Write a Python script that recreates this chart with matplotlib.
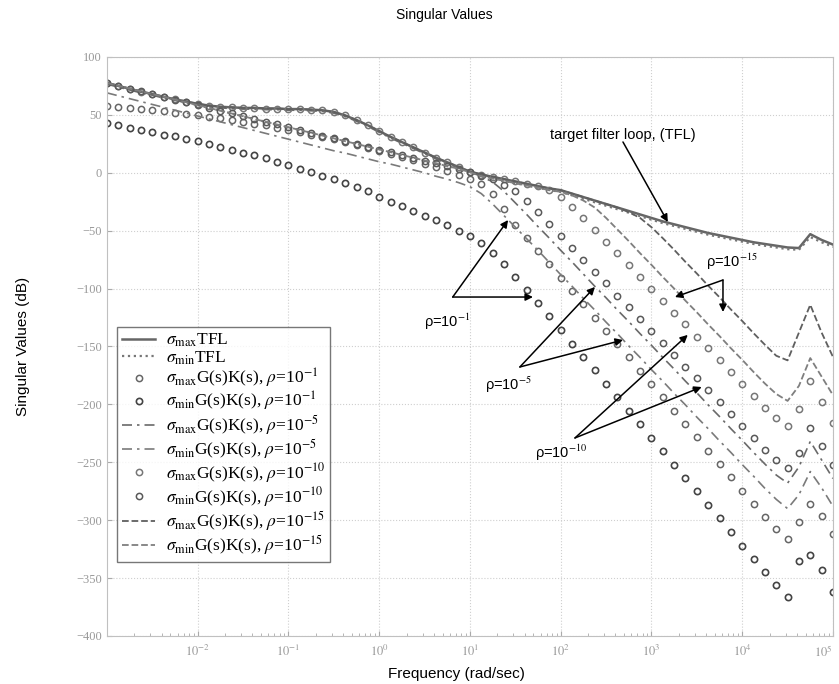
import numpy as np
import matplotlib.pyplot as plt

plt.rcParams['mathtext.fontset'] = 'stix'

# frequency grid (rad/sec), 8 points per decade like a bode sweep
freq = np.logspace(-3, 5, 65)

# singular values in dB
tfl_max_db = [77.5, 75, 72.5, 70, 68, 65.5, 63.5, 61.5, 59.5,
              58, 57, 56.5, 56, 56, 55.5, 55.5, 55, 55, 54.5, 54,
              52.5, 49.5, 45.5, 41, 36, 31, 26.5, 22, 17.5, 13, 9, 5,
              1,
              -1.5, -3.5, -5.5, -7.5, -9.5, -11.5, -13.5, -15,
              -18, -21, -24, -27, -30, -33, -36, -39,
              -42, -44.5, -47, -49.5, -52, -54, -56, -58,
              -60, -61.5, -63, -64.5, -65, -53, -58, -62]
tfl_min_db = [77.5, 75.1, 72.7, 70.3, 67.9, 65.6, 63.2, 60.8, 58.4,
              56, 53.6, 51.2, 48.8, 46.4, 44, 41.7, 39.3,
              36.9, 34.5, 32.1, 29.7, 27.3, 24.9, 22.5, 20.1,
              17.8, 15.4, 13, 10.6, 8.2, 5.8, 3.4, 0.5,
              -3, -5, -7, -9, -11, -13, -15, -16.5,
              -19.5, -22.5, -25.5, -28.5, -31.5, -34.5, -37.5, -40.5,
              -43.5, -46, -48.5, -51, -53.5, -55.5, -57.5, -59.5,
              -61.5, -63, -64.5, -66, -66.5, -55.5, -60, -64]

# rho = 1e-1
gk1_max_db = [58, 57, 56, 55, 54, 53, 52, 51, 50,
              48.5, 47, 45.5, 44, 42.5, 41, 39, 37,
              35, 33, 31, 29, 26.5, 24, 21.5, 19,
              16.5, 14, 11, 8, 5, 1.5, -2, -5.5,
              -10, -18, -31, -45, -56, -67.5, -79, -90.5,
              -102, -113.5, -125, -136.5, -148, -159.5, -171, -182.5,
              -194, -205.5, -217, -228.5, -240, -251.5, -263, -274.5,
              -286, -297.5, -308, -316, -302, -286, -296, -312]
gk1_min_db = [43, 41, 39, 37, 35, 33, 31.5, 29.5, 27.5,
              25, 22.5, 20, 17.5, 15, 12.5, 9.5, 6.5,
              3.5, 0.5, -2.5, -5.5, -9, -12.5, -16, -20.5,
              -25, -29, -33, -37, -41, -45.5, -50, -55,
              -61, -69, -79, -90, -101, -112.5, -124, -136,
              -147.5, -159, -170.5, -182, -194, -205.5, -217, -229,
              -240.5, -252, -263.5, -275, -287, -298.5, -310, -322,
              -333.5, -345, -356, -366, -335, -330, -343, -362]

# rho = 1e-5
gk5_max_db = [76.5, 74, 71.5, 69, 67, 64.5, 62.5, 60.5, 58.5,
              57, 56, 55.5, 55, 55, 54.5, 54.5, 54,
              54, 53.5, 53, 51.5, 48.5, 44.5, 40, 35,
              30, 25.5, 21, 16.5, 12, 8, 4, 0.5,
              -3, -8, -16, -26, -36, -46.5, -56.5, -67,
              -77, -87.5, -98, -108, -118.5, -128.5, -139, -149,
              -159.5, -169.5, -180, -190, -200.5, -210.5, -221, -231,
              -241.5, -251.5, -261, -268, -254, -232, -248, -264]
gk5_min_db = [69, 66.5, 64, 61.5, 59, 56.5, 54, 51.5, 49,
              46.5, 44, 41.5, 39, 36.5, 34, 31.5, 29,
              26.5, 24, 21.5, 19, 17, 14.5, 12, 9.5,
              7.5, 5, 2.5, 0, -3, -5.5, -8.5, -12,
              -18, -27, -37, -47, -57, -67, -77.5, -88,
              -98, -108.5, -118.5, -129, -139, -149.5, -159.5, -170,
              -180, -190.5, -200.5, -211, -221, -231.5, -241.5, -252,
              -262, -272.5, -282, -290, -278, -258, -272, -288]

# rho = 1e-10 and 1e-15 sit on the TFL at low frequency
gk10_max_db = tfl_max_db[:39] + [-15, -21, -29.5, -39, -49, -59.5, -69.5, -80, -90,
                                 -100.5, -110.5, -121, -131, -141.5, -151.5, -162,
                                 -172, -182.5, -192.5, -203, -212, -219, -204, -180,
                                 -198, -216]
gk10_min_db = tfl_min_db[:35] + [-10.5, -16, -24.5, -34, -44, -54.5, -65, -75, -85.5,
                                 -95.5, -106, -116, -126.5, -136.5, -147, -157,
                                 -167.5, -177.5, -188, -198, -208.5, -218.5, -229,
                                 -239, -248, -255, -242, -220, -236, -252]
gk15_max_db = tfl_max_db[:46] + [-34, -39, -47, -56.5, -66.5, -77, -87, -97.5, -107.5,
                                 -118, -128, -138.5, -148.5, -158, -162, -138, -114,
                                 -138, -159]
gk15_min_db = tfl_min_db[:42] + [-24, -30, -39, -49, -59, -69.5, -79.5, -90, -100,
                                 -110.5, -120.5, -131, -141, -151.5, -161.5, -172,
                                 -182, -191, -197, -184, -160, -176, -192]

fig = plt.figure(figsize=(8.39, 6.84), dpi=100)
ax = fig.add_axes([0.1275, 0.0702, 0.8653, 0.8465])

dashdot = (0, (6, 3, 1.5, 3))
ax.semilogx(freq, tfl_max_db, '-', color='#666666', lw=1.8,
            label=r'$\sigma_{\rm max}$TFL')
ax.semilogx(freq, tfl_min_db, ':', color='#777777', lw=1.6,
            label=r'$\sigma_{\rm min}$TFL')
ax.semilogx(freq, gk1_max_db, 'o', ls='none', ms=4.5, mfc='none', mec='#666666', mew=1.1,
            label=r'$\sigma_{\rm max}$G(s)K(s), $\rho$=10$^{-1}$')
ax.semilogx(freq, gk1_min_db, 'o', ls='none', ms=4.5, mfc='none', mec='#444444', mew=1.2,
            label=r'$\sigma_{\rm min}$G(s)K(s), $\rho$=10$^{-1}$')
ax.semilogx(freq, gk5_max_db, ls=dashdot, color='#6a6a6a', lw=1.2,
            label=r'$\sigma_{\rm max}$G(s)K(s), $\rho$=10$^{-5}$')
ax.semilogx(freq, gk5_min_db, ls=dashdot, color='#7a7a7a', lw=1.2,
            label=r'$\sigma_{\rm min}$G(s)K(s), $\rho$=10$^{-5}$')
ax.semilogx(freq, gk10_max_db, 'o', ls='none', ms=4.5, mfc='none', mec='#777777', mew=1.1,
            label=r'$\sigma_{\rm max}$G(s)K(s), $\rho$=10$^{-10}$')
ax.semilogx(freq, gk10_min_db, 'o', ls='none', ms=4.5, mfc='none', mec='#595959', mew=1.1,
            label=r'$\sigma_{\rm min}$G(s)K(s), $\rho$=10$^{-10}$')
ax.semilogx(freq, gk15_max_db, '--', color='#5f5f5f', lw=1.3,
            label=r'$\sigma_{\rm max}$G(s)K(s), $\rho$=10$^{-15}$')
ax.semilogx(freq, gk15_min_db, '--', color='#7f7f7f', lw=1.3,
            label=r'$\sigma_{\rm min}$G(s)K(s), $\rho$=10$^{-15}$')

ax.set_xlim(1e-3, 1e5)
ax.set_ylim(-400, 100)
ax.set_yticks(np.arange(-400, 101, 50))
ax.set_xticks([1e-2, 1e-1, 1e0, 1e1, 1e2, 1e3, 1e4, 1e5])
ax.set_xticklabels([r'$10^{-2}$', r'$10^{-1}$', r'$10^{0}$', r'$10^{1}$',
                    r'$10^{2}$', r'$10^{3}$', r'$10^{4}$', r'$10^{5}$'])
ax.get_xticklabels()[-1].set_horizontalalignment('right')
ax.tick_params(which='both', direction='in', colors='#aaaaaa', labelsize=9,
               labelcolor='#999999')
ax.tick_params(axis='x', pad=6)
for lab in ax.get_yticklabels():
    lab.set_family('Liberation Serif')
ax.grid(True, which='major', ls=':', color='#cfcfcf', lw=0.8)
for s in ax.spines.values():
    s.set_color('#c0c0c0')
    s.set_linewidth(0.8)

fig.text(0.530, 0.978, 'Singular Values', ha='center', va='center',
         fontsize=10, family='Liberation Sans')
ax.set_xlabel('Frequency (rad/sec)', fontsize=11, family='Liberation Sans')
ax.xaxis.set_label_coords(0.482, -0.054)
ax.set_ylabel('Singular Values (dB)', fontsize=11, family='Liberation Sans')
ax.yaxis.set_label_coords(-0.106, 0.5)

leg = ax.legend(loc='upper left', bbox_to_anchor=(0.014, 0.534),
                prop={'family': 'Liberation Serif', 'size': 12.5},
                frameon=True, fancybox=False, edgecolor='#555555',
                handlelength=1.9, handletextpad=0.6, labelspacing=0.0,
                borderpad=0.3, borderaxespad=0)
leg.get_frame().set_linewidth(1.0)


def arrow(start, end):
    ax.annotate('', xy=end, xytext=start,
                arrowprops=dict(arrowstyle='-|>', color='k', lw=1.1,
                                mutation_scale=11, shrinkA=0, shrinkB=0))


txt = dict(ha='center', va='center', fontsize=10.5, family='Liberation Sans')

ax.text(10**2.686, 32.6, 'target filter loop, (TFL)', **txt)
arrow((10**2.686, 26.6), (10**3.18, -42.5))

ax.text(10**0.747, -128.8, 'ρ=10$^{-1}$', **txt)
arrow((10**0.81, -107.3), (10**1.42, -40.8))
arrow((10**0.81, -107.3), (10**1.694, -107.3))

ax.text(10**1.42, -183, 'ρ=10$^{-5}$', **txt)
arrow((10**1.55, -167.7), (10**2.377, -98.6))
arrow((10**1.55, -167.7), (10**2.686, -144.4))

ax.text(10**2.0, -242, 'ρ=10$^{-10}$', **txt)
arrow((10**2.157, -229), (10**3.40, -140))
arrow((10**2.157, -229), (10**3.553, -185))

ax.text(10**3.887, -77, 'ρ=10$^{-15}$', **txt)
arrow((10**3.788, -92.6), (10**3.259, -107.3))
arrow((10**3.788, -92.6), (10**3.788, -120.2))

fig.savefig('out.png', dpi=100)
